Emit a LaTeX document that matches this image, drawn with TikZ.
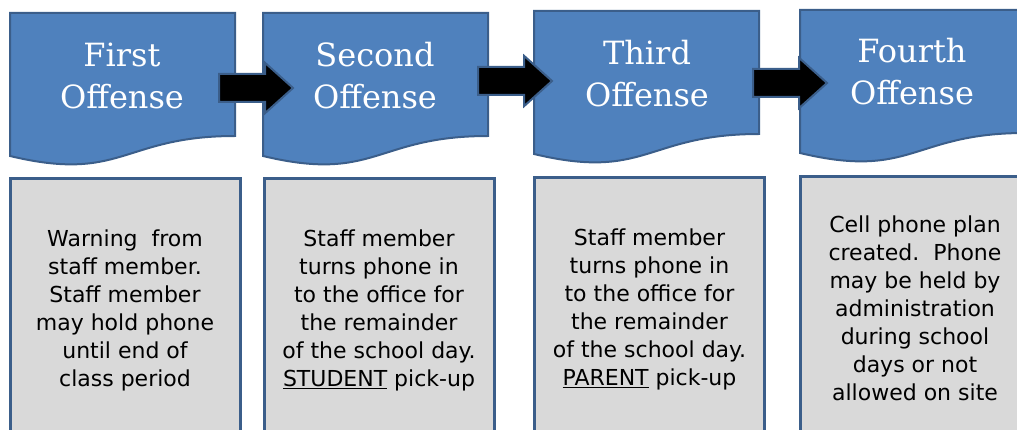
\documentclass[tikz,border=0pt]{standalone}
\usepackage{fontspec}
\newfontfamily\headfont{DejaVu Serif}
\newfontfamily\bodyfont{DejaVu Sans}
\usepackage{tikz}
\usetikzlibrary{positioning}
\usetikzlibrary{shapes.arrows}
\definecolor{offblue}{HTML}{4F81BD}
\definecolor{offedge}{HTML}{3B5E8A}
\definecolor{cardgray}{HTML}{D9D9D9}

\begin{document}
\begin{tikzpicture}[x=1pt, y=-1pt,
    doc/.style = {draw=offedge, line width=2pt, fill=offblue},
    head/.style = {text=white, align=center, font=\headfont\fontsize{32}{42}\selectfont},
    card/.style = {draw=offedge, line width=3pt, fill=cardgray, anchor=north,
                   minimum width=230pt, minimum height=264pt, align=center,
                   font=\bodyfont\fontsize{22}{28}\selectfont},
    blockarrow/.style = {single arrow, draw=offedge, line width=2pt, fill=black, anchor=tail,
                   minimum height=74pt, inner xsep=0pt, inner ysep=13pt,
                   single arrow head extend=11pt, single arrow tip angle=84}]
            \useasboundingbox (0,0) rectangle (1017,430);
            \clip (0,0) rectangle (1017,430);
            % Offense shapes
            \foreach \x/\t in {10/13, 263/13, 534/11, 800/10} {
                \draw[doc] (\x,\t) -- (\x+225,\t) -- (\x+225,\t+123)
                    .. controls (\x+112.5,\t+123) and (\x+112.5,\t+170) .. (\x,\t+143) -- cycle;
            }
            % Headings
            \node[head] (first) at (122,76) {First\\Offense};
            \node[head] (second) at (375,76) {Second\\Offense};
            \node[head] (third) at (647,74) {Third\\Offense};
            \node[head] (fourth) at (912,72) {Fourth\\Offense};
            % Cards
            \node[card] (warn) at (125,177) {Warning\ \ from\\staff member.\\Staff member\\may hold phone\\until end of\\class period};
            \node[card] (student) at (379,177) {Staff member\\turns phone in\\to the office for\\the remainder\\of the school day.\\\underline{STUDENT} pick-up};
            \node[card] (parent) at (649.5,176) {Staff member\\turns phone in\\to the office for\\the remainder\\of the school day.\\\underline{PARENT} pick-up};
            \node[card] (plan) at (915,175) {Cell phone plan\\created.\ \ Phone\\may be held by\\administration\\during school\\days or not\\allowed on site};
            % Arrows
            \node[blockarrow] (a1) at (218,88) {};
            \node[blockarrow] (a2) at (477,81) {};
            \node[blockarrow] (a3) at (752,83) {};
\end{tikzpicture}
\end{document}
